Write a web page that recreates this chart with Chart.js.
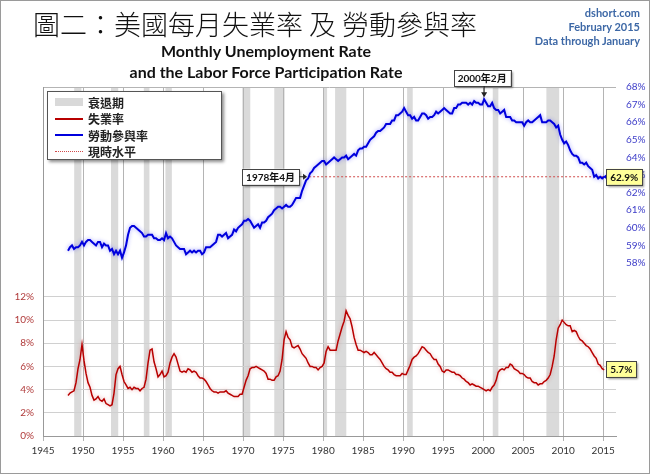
<!DOCTYPE html>
<html>
<head>
<meta charset="utf-8">
<script src="https://cdn.jsdelivr.net/npm/chart.js@4.4.1/dist/chart.umd.min.js"></script>
<style>
  body { margin: 0; background: #fff; overflow: hidden; }
  #wrap { position: relative; width: 650px; height: 474px; }
  #frame { position: absolute; left: 0; top: 0; width: 650px; height: 474px; box-sizing: border-box;
    border: 1px solid #9a9a9a; pointer-events: none; }
  canvas { position: absolute; left: 0; top: 0; }
  .title { position: absolute; left: 33px; top: 4px; font: 300 27px "Noto Sans CJK TC", sans-serif; color: #111; white-space: nowrap; }
  .sub { position: absolute; left: 86px; width: 360px; text-align: center; font: bold 16px Lato, sans-serif; color: #111; }
  .src { position: absolute; right: 10px; top: 6px; text-align: right; font: bold 11px Lato, sans-serif; color: #3d68a6; line-height: 14px; }
  #legend { position: absolute; left: 47px; top: 91px; width: 175px; height: 69px; box-sizing: border-box;
    background: #fff; border: 1px solid #555; box-shadow: 2px 2px 3px rgba(0,0,0,0.45); padding-top: 2px; }
  #legend div { height: 16.5px; display: flex; align-items: center; font: bold 12px "Noto Sans CJK TC", sans-serif; color: #222; }
  #legend span.sw { display: inline-block; width: 28px; margin: 0 5px 0 7px; }
</style>
</head>
<body>
<div id="wrap">
  <canvas id="chart" width="650" height="474"></canvas>
  <div class="title">圖二：美國每月失業率 及 勞動參與率</div>
  <div class="sub" style="top:41px">Monthly Unemployment Rate</div>
  <div class="sub" style="top:62px">and the Labor Force Participation Rate</div>
  <div class="src">dshort.com<br>February 2015<br>Data through January</div>
  <div id="legend"></div>
  <div id="frame"></div>
</div>
<script>
// quarterly values from 1948 Q1, last value = January 2015
const startYear = 1948;
const unemployment = [
  3.5, 3.7, 3.8, 3.9,   4.6, 5.8, 6.6, 7.9,   6.5, 5.4, 4.6, 4.2,   3.5, 3.1, 3.2, 3.4,
  3.1, 3.0, 3.2, 2.8,   2.7, 2.6, 2.7, 3.7,   5.3, 5.8, 6.0, 5.3,   4.7, 4.4, 4.1, 4.2,
  4.0, 4.2, 4.1, 4.1,   3.9, 4.1, 4.2, 4.9,   6.3, 7.4, 7.5, 6.4,   5.8, 5.1, 5.3, 5.6,
  5.1, 5.2, 5.5, 6.3,   6.8, 7.1, 6.8, 6.2,   5.6, 5.5, 5.6, 5.5,   5.8, 5.7, 5.5, 5.6,
  5.5, 5.2, 5.0, 5.0,   4.9, 4.7, 4.4, 4.1,   3.9, 3.8, 3.8, 3.7,   3.8, 3.8, 3.8, 3.9,
  3.7, 3.6, 3.5, 3.4,   3.4, 3.4, 3.6, 3.6,   4.2, 4.8, 5.2, 5.8,   5.9, 5.9, 6.0, 5.9,
  5.8, 5.7, 5.6, 5.4,   4.9, 4.9, 4.8, 4.8,   5.1, 5.2, 5.6, 6.6,   8.3, 9.0, 8.5, 8.3,
  7.7, 7.6, 7.7, 7.8,   7.5, 7.1, 6.9, 6.7,   6.3, 6.0, 6.0, 5.9,   5.9, 5.7, 5.9, 6.0,
  6.3, 7.3, 7.7, 7.4,   7.4, 7.4, 7.4, 8.2,   8.8, 9.4, 9.9, 10.8,  10.4, 10.1, 9.4, 8.5,
  7.9, 7.4, 7.4, 7.3,   7.2, 7.3, 7.2, 7.0,   7.0, 7.2, 7.0, 6.8,   6.6, 6.3, 6.0, 5.8,
  5.7, 5.5, 5.5, 5.3,   5.2, 5.2, 5.2, 5.4,   5.3, 5.3, 5.7, 6.1,   6.6, 6.8, 6.9, 7.1,
  7.4, 7.7, 7.6, 7.4,   7.2, 7.1, 6.8, 6.6,   6.6, 6.2, 6.0, 5.6,   5.5, 5.7, 5.7, 5.6,
  5.5, 5.5, 5.3, 5.3,   5.2, 5.0, 4.9, 4.7,   4.6, 4.4, 4.5, 4.4,   4.3, 4.3, 4.2, 4.1,
  4.0, 3.9, 4.0, 3.9,   4.2, 4.4, 4.8, 5.5,   5.7, 5.8, 5.7, 5.9,   5.9, 6.2, 6.1, 5.8,
  5.7, 5.6, 5.4, 5.4,   5.3, 5.1, 5.0, 5.0,   4.7, 4.6, 4.6, 4.4,   4.5, 4.5, 4.7, 4.8,
  5.0, 5.3, 6.0, 6.9,   8.3, 9.3, 9.6, 10.0,  9.8, 9.6, 9.5, 9.5,   9.0, 9.1, 9.0, 8.6,
  8.3, 8.2, 8.0, 7.8,   7.7, 7.5, 7.2, 6.9,   6.7, 6.2, 6.1, 5.8,
  5.7
];
const participation = [
  58.7, 58.9, 59.0, 58.8,   58.9, 58.9, 59.0, 59.2,   59.0, 59.2, 59.3, 59.3,   59.2, 59.1, 59.0, 59.2,
  59.2, 58.9, 59.1, 59.0,   59.0, 58.7, 58.8, 58.5,   58.7, 58.5, 58.7, 58.3,   58.6, 59.0, 59.6, 60.0,
  60.1, 60.1, 60.0, 59.9,   59.8, 59.7, 59.5, 59.5,   59.6, 59.6, 59.6, 59.4,   59.4, 59.3, 59.3, 59.4,
  59.3, 59.7, 59.4, 59.5,   59.4, 59.2, 59.0, 58.9,   58.8, 58.8, 58.8, 58.5,   58.6, 58.7, 58.6, 58.7,
  58.6, 58.7, 58.7, 58.5,   58.6, 58.9, 58.9, 58.9,   59.0, 59.1, 59.2, 59.6,   59.6, 59.5, 59.6, 59.7,
  59.4, 59.5, 59.6, 59.9,   59.8, 60.0, 60.1, 60.2,   60.4, 60.4, 60.5, 60.4,   60.2, 60.0, 60.1, 60.2,
  60.0, 60.3, 60.3, 60.4,   60.6, 60.7, 60.8, 61.0,   61.1, 61.2, 61.2, 61.1,   61.2, 61.3, 61.2, 61.2,
  61.3, 61.5, 61.7, 61.7,   61.7, 62.1, 62.4, 62.7,   62.8, 63.1, 63.2, 63.4,   63.5, 63.6, 63.7, 63.8,
  63.8, 63.6, 63.7, 63.8,   63.9, 64.0, 63.9, 63.8,   63.9, 64.0, 64.0, 64.1,   63.9, 64.0, 64.1, 64.2,
  64.1, 64.4, 64.5, 64.5,   64.6, 64.6, 64.8, 65.0,   65.1, 65.2, 65.4, 65.5,   65.5, 65.6, 65.7, 65.9,
  65.9, 65.9, 66.1, 66.1,   66.4, 66.4, 66.5, 66.6,   66.8, 66.6, 66.4, 66.4,   66.2, 66.3, 66.1, 66.1,
  66.3, 66.5, 66.5, 66.4,   66.2, 66.3, 66.3, 66.4,   66.6, 66.5, 66.6, 66.7,   66.8, 66.7, 66.6, 66.5,
  66.5, 66.8, 66.8, 67.0,   67.0, 67.1, 67.1, 67.1,   67.0, 67.1, 67.0, 67.2,   67.1, 67.1, 67.0, 67.0,
  67.3, 67.1, 66.9, 66.9,   67.1, 66.8, 66.7, 66.7,   66.5, 66.6, 66.7, 66.3,   66.3, 66.3, 66.1, 66.1,
  66.0, 66.0, 66.0, 66.0,   65.8, 66.0, 66.1, 66.0,   66.0, 66.1, 66.2, 66.3,   66.4, 66.0, 66.0, 66.0,
  66.1, 66.1, 66.0, 65.9,   65.7, 65.8, 65.3, 65.0,   64.8, 64.9, 64.7, 64.4,   64.2, 64.1, 64.1, 64.0,
  63.7, 63.7, 63.6, 63.7,   63.5, 63.4, 63.3, 62.9,   63.0, 62.8, 62.9, 62.8,
  62.9
];
// NBER recessions (start, end) in fractional years
const recessions = [
  [1948.9, 1949.8], [1953.5, 1954.4], [1957.6, 1958.3], [1960.3, 1961.1],
  [1969.9, 1970.9], [1973.9, 1975.2], [1980.0, 1980.5], [1981.5, 1982.9],
  [1990.5, 1991.2], [2001.2, 2001.9], [2007.9, 2009.5]
];
const yearTicks = [1945, 1950, 1955, 1960, 1965, 1970, 1975, 1980, 1985, 1990, 1995, 2000, 2005, 2010, 2015];
const unempTicks = [0, 2, 4, 6, 8, 10, 12];
const partTicks = [58, 59, 60, 61, 62, 63, 64, 65, 66, 67, 68];
const currentLevelFrom = 1978.25;   // April 1978
const peakLabel = '2000年2月';
const crossLabel = '1978年4月';
const legendNames = ['衰退期', '失業率', '勞動參與率', '現時水平'];

const toX = i => startYear + i * 0.25 + 0.125;
const toPoints = arr => arr.map((v, i) => ({ x: toX(i), y: v }));
const lastX = toX(participation.length - 1);
const lastPart = participation[participation.length - 1];
const lastUnemp = unemployment[unemployment.length - 1];

// legend (html)
const sw = [
  '<span class="sw" style="height:8px;background:#d9d9d9"></span>',
  '<span class="sw" style="height:2px;background:#b80000"></span>',
  '<span class="sw" style="height:2px;background:#0000dd"></span>',
  '<span class="sw" style="height:0;border-top:1px dotted #d04a4a"></span>'
];
document.getElementById('legend').innerHTML =
  legendNames.map((n, i) => `<div>${sw[i]}${n}</div>`).join('');

// grey recession bands under the grid
const recessionBands = {
  id: 'recessionBands',
  beforeDraw(chart) {
    const { ctx, chartArea, scales: { x } } = chart;
    ctx.save();
    ctx.fillStyle = '#dadada';
    recessions.forEach(([a, b]) => {
      const x1 = x.getPixelForValue(a), x2 = x.getPixelForValue(b);
      ctx.fillRect(x1, chartArea.top, x2 - x1, chartArea.bottom - chartArea.top);
    });
    ctx.restore();
  }
};

// soft glow on the two main lines
const lineGlow = {
  id: 'lineGlow',
  beforeDatasetDraw(chart, args) {
    if (args.index > 1) return;
    const ctx = chart.ctx;
    ctx.save();
    ctx.shadowColor = args.index === 0 ? 'rgba(40,40,255,0.45)' : 'rgba(200,30,30,0.35)';
    ctx.shadowBlur = 4;
  },
  afterDatasetDraw(chart, args) {
    if (args.index > 1) return;
    chart.ctx.restore();
  }
};

function labelBox(ctx, text, left, cy, fill) {
  ctx.font = 'bold 10px Lato, "Noto Sans CJK TC", sans-serif';
  const w = ctx.measureText(text).width + 8, h = 16;
  ctx.save();
  ctx.shadowColor = 'rgba(0,0,0,0.4)';
  ctx.shadowOffsetX = 2; ctx.shadowOffsetY = 2; ctx.shadowBlur = 2;
  ctx.fillStyle = fill;
  ctx.fillRect(left, cy - h / 2, w, h);
  ctx.restore();
  ctx.strokeStyle = '#444';
  ctx.lineWidth = 1;
  ctx.strokeRect(Math.round(left) + 0.5, Math.round(cy - h / 2) + 0.5, Math.round(w), h);
  ctx.fillStyle = '#111';
  ctx.textBaseline = 'middle';
  ctx.textAlign = 'left';
  ctx.fillText(text, left + 4, cy + 1);
  return w;
}

function tri(ctx, pts, color) {
  ctx.fillStyle = color;
  ctx.beginPath();
  ctx.moveTo(pts[0], pts[1]); ctx.lineTo(pts[2], pts[3]); ctx.lineTo(pts[4], pts[5]);
  ctx.closePath();
  ctx.fill();
}

const callouts = {
  id: 'callouts',
  afterDraw(chart) {
    const { ctx, chartArea, scales: { x, yL, yR } } = chart;
    ctx.save();
    // peak of participation
    const pi = participation.indexOf(Math.max(...participation));
    const px = x.getPixelForValue(toX(pi)), py = yR.getPixelForValue(participation[pi]);
    ctx.font = 'bold 10px Lato, "Noto Sans CJK TC", sans-serif';
    const pw = ctx.measureText(peakLabel).width + 8;
    labelBox(ctx, peakLabel, px - pw / 2 - 2, chartArea.top - 9, '#fff');
    ctx.strokeStyle = '#222';
    ctx.beginPath(); ctx.moveTo(px, chartArea.top - 1); ctx.lineTo(px, py - 6); ctx.stroke();
    tri(ctx, [px - 3, py - 7, px + 3, py - 7, px, py - 2], '#222');

    // start of current level line
    const cx = x.getPixelForValue(currentLevelFrom), cy = yR.getPixelForValue(lastPart);
    ctx.font = 'bold 10px Lato, "Noto Sans CJK TC", sans-serif';
    const cw = ctx.measureText(crossLabel).width + 8;
    labelBox(ctx, crossLabel, cx - 10 - cw, cy, '#fff');
    ctx.strokeStyle = '#222';
    ctx.beginPath(); ctx.moveTo(cx - 10, cy); ctx.lineTo(cx - 5, cy); ctx.stroke();
    tri(ctx, [cx - 6, cy - 3, cx - 6, cy + 3, cx - 2, cy], '#222');

    // latest values
    const lx = x.getPixelForValue(lastX);
    const ly1 = yR.getPixelForValue(lastPart), ly2 = yL.getPixelForValue(lastUnemp);
    tri(ctx, [lx - 1, ly1, lx + 3, ly1 - 3, lx + 3, ly1 + 3], '#0000dd');
    labelBox(ctx, lastPart.toFixed(1) + '%', lx + 2, ly1, '#ffff99');
    labelBox(ctx, lastUnemp.toFixed(1) + '%', lx + 2, ly2 - 1, '#ffff99');
    ctx.restore();
  }
};

const tickFont = { family: 'Lato, sans-serif', size: 10 };

new Chart(document.getElementById('chart'), {
  type: 'line',
  data: {
    datasets: [
      {
        label: legendNames[2],
        data: toPoints(participation),
        yAxisID: 'yR',
        borderColor: '#0000dd',
        borderWidth: 2,
        pointRadius: 0,
        tension: 0
      },
      {
        label: legendNames[1],
        data: toPoints(unemployment),
        yAxisID: 'yL',
        borderColor: '#b80000',
        borderWidth: 1.5,
        pointRadius: 0,
        tension: 0
      },
      {
        label: legendNames[3],
        data: [{ x: currentLevelFrom, y: lastPart }, { x: lastX, y: lastPart }],
        yAxisID: 'yR',
        borderColor: '#d04a4a',
        borderWidth: 1,
        borderDash: [2, 2],
        pointRadius: 0
      }
    ]
  },
  options: {
    responsive: false,
    animation: false,
    layout: { padding: { top: 87, left: 0, right: 0, bottom: 0 } },
    plugins: {
      legend: { display: false },
      tooltip: { enabled: false }
    },
    scales: {
      x: {
        type: 'linear',
        min: 1945,
        max: 2016.6,
        afterBuildTicks: s => { s.ticks = yearTicks.map(v => ({ value: v })); },
        afterFit: s => { s.height = 38; },
        ticks: { font: tickFont, color: '#333', padding: 4, maxRotation: 0, callback: v => String(v) },
        grid: { color: '#b4b4b4', tickLength: 5 },
        border: { color: '#999' }
      },
      yL: {
        position: 'left',
        min: 0,
        max: 30.1,
        afterBuildTicks: s => { s.ticks = unempTicks.map(v => ({ value: v })); },
        afterFit: s => { s.width = 43; },
        ticks: { font: tickFont, color: '#b03a3a', padding: 9, callback: v => v + '%' },
        grid: { color: '#d0d0d0', drawTicks: false },
        border: { color: '#999' }
      },
      yR: {
        position: 'right',
        min: 48.17,
        max: 68,
        afterBuildTicks: s => { s.ticks = partTicks.map(v => ({ value: v })); },
        afterFit: s => { s.width = 34; },
        ticks: { font: tickFont, color: '#3c3cc8', padding: 10, callback: v => v + '%' },
        grid: { drawTicks: false, color: c => c.tick && c.tick.value === 68 ? '#b4b4b4' : 'rgba(0,0,0,0)' },
        border: { display: false }
      }
    }
  },
  plugins: [recessionBands, lineGlow, callouts]
});
</script>
</body>
</html>
